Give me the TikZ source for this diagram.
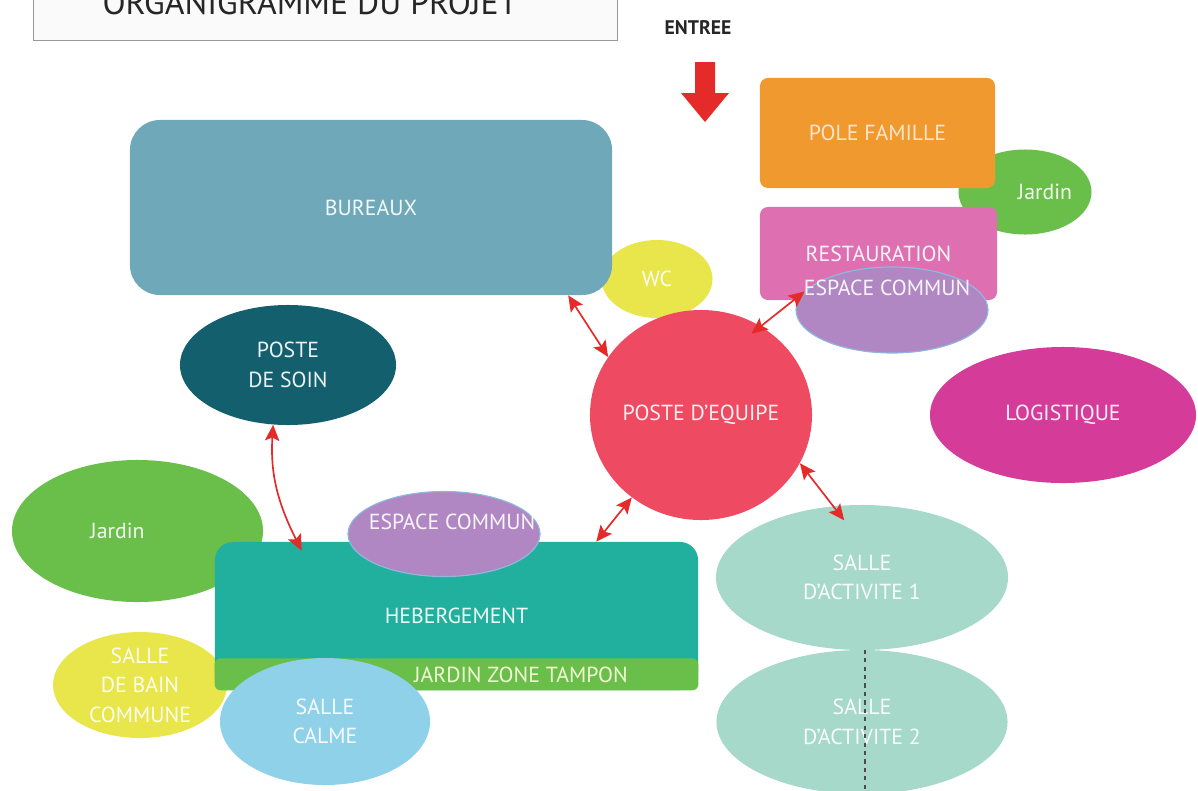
\documentclass[tikz,border=0pt]{standalone}
\usepackage{fontspec}
\setmainfont{PT Sans}
\usepackage{xcolor}
\usepackage{tikz}
\usetikzlibrary{positioning,arrows.meta,shapes.geometric}

\definecolor{bureauxblue}{HTML}{6FA8B8}
\definecolor{wcyellow}{HTML}{E8E64A}
\definecolor{sointeal}{HTML}{135F6D}
\definecolor{equipered}{HTML}{EE4B62}
\definecolor{logimagenta}{HTML}{D53C9A}
\definecolor{poleorange}{HTML}{F0992F}
\definecolor{jardingreen}{HTML}{6ABF4B}
\definecolor{restaupink}{HTML}{DE70B2}
\definecolor{communpurple}{HTML}{B087C2}
\definecolor{communedge}{HTML}{8FB8E0}
\definecolor{hebergteal}{HTML}{21B09D}
\definecolor{calmeblue}{HTML}{8FD1E8}
\definecolor{activgreen}{HTML}{A6D9C9}
\definecolor{linkred}{HTML}{E52A2A}

\begin{document}
\begin{tikzpicture}[x=0.025cm,y=-0.025cm,
  every node/.style={inner sep=0pt,align=center,text=white,text opacity=0.92,
    font=\fontsize{15.5}{21}\selectfont},
  boxnode/.style={rectangle,rounded corners=0.3cm},
  ellnode/.style={ellipse},
  link/.style={{Stealth[length=4mm,width=3.6mm,inset=0.8mm]}-{Stealth[length=4mm,width=3.6mm,inset=0.8mm]},
    draw=linkred,line width=1.2pt}]
  \useasboundingbox (0,0) rectangle (1198,790);
  \clip (0,0) rectangle (1198,790);

  % title and entry
  \node[rectangle,draw=gray!80,fill=gray!4,minimum width=14.6cm,minimum height=1.3cm] (titre) at (325,14) {};
  \node[text=black!85,text opacity=1,font=\fontsize{24}{28}\selectfont] (titretxt) at (310,3) {ORGANIGRAMME DU PROJET};
  \node[text=black!85,text opacity=1,font=\bfseries\fontsize{14}{16}\selectfont] (entree) at (698,28) {ENTREE};
  \fill[linkred] (695,62) -- (715,62) -- (715,93) -- (729,93) -- (705,122) -- (681,93) -- (695,93) -- cycle;

  % top right
  \node[ellnode,fill=jardingreen,minimum width=3.15cm,minimum height=2.125cm] (jardinhaut) at (1025,192) {\hspace*{1cm}Jardin};
  \node[boxnode,rounded corners=0.2cm,fill=poleorange,minimum width=5.875cm,minimum height=2.75cm,text=orange!15] (pole) at (877.5,133) {POLE FAMILLE};
  \node[boxnode,rounded corners=0.2cm,fill=restaupink,minimum width=5.925cm,minimum height=2.325cm] (restau) at (878.5,253.5) {RESTAURATION};
  \node[ellnode,fill=communpurple,draw=communedge,line width=0.8pt,minimum width=4.8cm,minimum height=2.15cm] (rcommun) at (892,310) {};
  \node (rcommuntxt) at (887,288) {ESPACE COMMUN};

  % bureaux
  \node[ellnode,fill=wcyellow,minimum width=2.775cm,minimum height=1.95cm] (wc) at (657,279) {WC};
  \node[boxnode,rounded corners=0.75cm,fill=bureauxblue,minimum width=12.05cm,minimum height=4.375cm] (bureaux) at (371,207.5) {BUREAUX};

  % centre
  \node[ellnode,fill=sointeal,minimum width=5.4cm,minimum height=3cm] (soin) at (288,365) {POSTE\\DE SOIN};
  \node[ellnode,fill=equipered,minimum width=5.55cm,minimum height=5.25cm] (equipe) at (701,415) {POSTE D'EQUIPE};
  \node[ellnode,fill=logimagenta,minimum width=6.65cm,minimum height=3.4cm] (logistique) at (1063,415) {LOGISTIQUE};

  % hebergement
  \node[ellnode,fill=jardingreen,minimum width=6.275cm,minimum height=3.55cm] (jardinbas) at (137.5,531) {Jardin\hspace*{1cm}};
  \node[ellnode,fill=wcyellow,minimum width=4.35cm,minimum height=2.65cm] (sdb) at (140,685) {SALLE\\DE BAIN\\COMMUNE};
  \node[boxnode,rounded corners=0.45cm,fill=hebergteal,minimum width=12.075cm,minimum height=3.7cm] (heberg) at (456.5,616) {HEBERGEMENT};
  \fill[jardingreen,rounded corners=0.15cm] (heberg.south west) rectangle ([yshift=0.8cm]heberg.south east);
  \node[text=yellow!12] (tampon) at (521,675) {JARDIN ZONE TAMPON};
  \node[ellnode,fill=communpurple,draw=communedge,line width=0.8pt,minimum width=4.8cm,minimum height=2.125cm] (hcommun) at (444,534) {};
  \node (hcommuntxt) at (452,522) {ESPACE COMMUN};
  \node[ellnode,fill=calmeblue,minimum width=5.25cm,minimum height=3.175cm] (calme) at (325,721.5) {SALLE\\CALME};

  % activites
  \node[ellnode,fill=activgreen,minimum width=7.275cm,minimum height=3.6cm] (act2) at (862,722) {SALLE\\D'ACTIVITE 2};
  \node[ellnode,fill=activgreen,minimum width=7.3cm,minimum height=3.625cm] (act1) at (862,577.5) {SALLE\\D'ACTIVITE 1};
  \draw[black!70,dashed,line width=1.2pt] ([xshift=0.08cm]act2.north) -- ([xshift=0.08cm]act2.south);

  % liaisons
  \draw[link] (bureaux.-24.5) -- (equipe.148);
  \draw[link,shorten <=-0.3cm] (equipe.56) -- (rcommun.168);
  \draw[link] (equipe.-130) -- (heberg.28);
  \draw[link,shorten >=-0.45cm] (equipe.-26) -- (act1.112);
  \draw[link,shorten >=-0.25cm] (soin.-104) to[bend right=15] (heberg.155);
\end{tikzpicture}
\end{document}
